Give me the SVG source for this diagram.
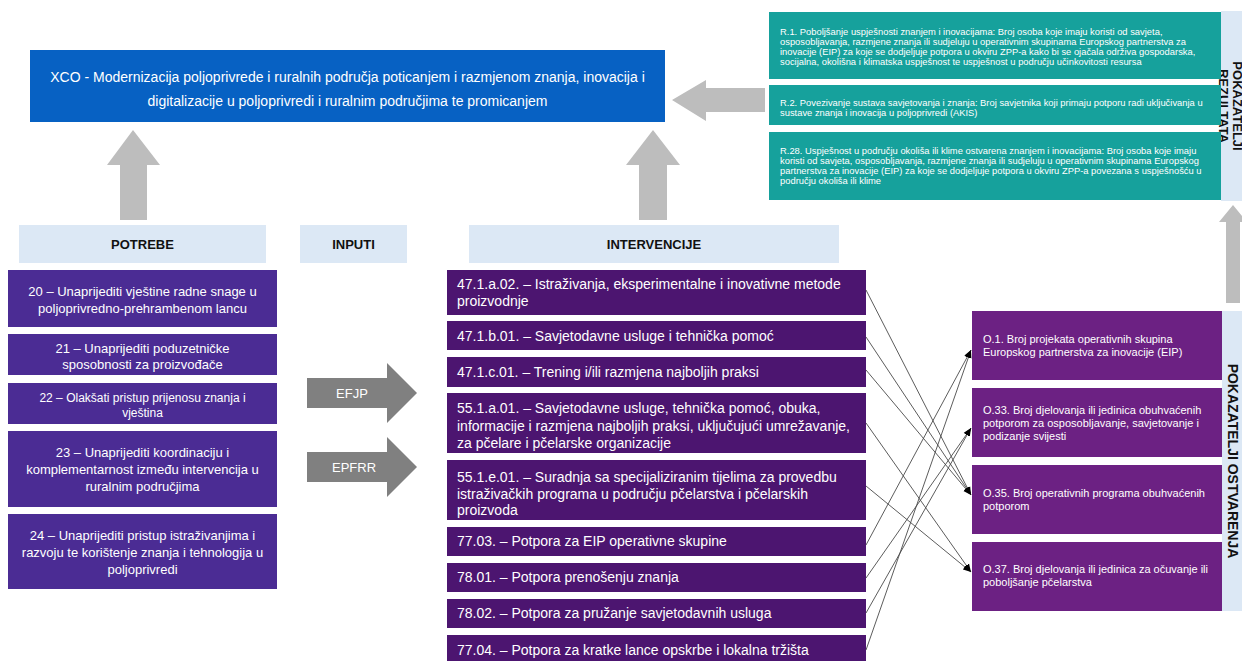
<svg xmlns="http://www.w3.org/2000/svg" width="1242" height="661" viewBox="0 0 1242 661">
<defs>
<style>
text{font-family:"Liberation Sans",Arial,sans-serif;}
.hdr{fill:#dce8f5;}
.hdrt{font-size:13px;font-weight:bold;fill:#111;text-anchor:middle;}
.need{fill:#4b2c94;}
.needt{font-size:13px;fill:#fff;text-anchor:middle;}
.intv{fill:#4c1570;}
.intvt{font-size:14px;fill:#fff;}
.out{fill:#6c2183;}
.outt{font-size:11px;fill:#fff;}
.res{fill:#16a19c;}
.rest{font-size:9.4px;fill:#fff;}
.big{fill:#bdbdbd;}
.inp{fill:#808080;}
.inpt{font-size:13px;fill:#fff;text-anchor:middle;}
.vert{font-size:13px;font-weight:bold;fill:#111;text-anchor:middle;}
.conn{stroke:#4a4a4a;stroke-width:0.9;fill:none;marker-end:url(#ah);}
</style>
<marker id="ah" viewBox="0 0 10 10" refX="10" refY="5" markerWidth="8" markerHeight="8" orient="auto" markerUnits="userSpaceOnUse">
<path d="M0,1 L10,5 L0,9 z" fill="#000"/>
</marker>
</defs>
<rect width="1242" height="661" fill="#fff"/>

<g id="xco">
<rect x="30" y="50" width="635" height="72" fill="#0761c3"/>
<text x="347.5" y="82" font-size="14" fill="#fff" text-anchor="middle">XCO - Modernizacija poljoprivrede i ruralnih područja poticanjem i razmjenom znanja, inovacija i</text>
<text x="347.5" y="106" font-size="14" fill="#fff" text-anchor="middle">digitalizacije u poljoprivredi i ruralnim područjima te promicanjem</text>
</g>

<g id="big-arrows">
<polygon class="big" points="133,130 160,165 147,165 147,220 120,220 120,165 107,165"/>
<polygon class="big" points="653,130 680,165 667,165 667,220 639,220 639,165 626,165"/>
<polygon class="big" points="672,100 706,80 706,88 765,88 765,112 706,112 706,121"/>
<polygon class="big" points="1233,205 1247,222 1240,222 1240,303 1226,303 1226,222 1219,222"/>
</g>

<g id="results">
<rect class="hdr" x="1221" y="11" width="21" height="190"/>
<g transform="translate(1219,106) rotate(90)">
<text class="vert" x="0" y="-14">POKAZATELJI</text>
<text class="vert" x="0" y="0">REZULTATA</text>
</g>
<g id="r1">
<rect class="res" x="769" y="12" width="452" height="67"/>
<text class="rest"><tspan x="780" y="34.5">R.1. Poboljšanje uspješnosti znanjem i inovacijama: Broj osoba koje imaju koristi od savjeta,</tspan><tspan x="780" y="44.8">osposobljavanja, razmjene znanja ili sudjeluju u operativnim skupinama Europskog partnerstva za</tspan><tspan x="780" y="55.1">inovacije (EIP) za koje se dodjeljuje potpora u okviru ZPP-a kako bi se ojačala održiva gospodarska,</tspan><tspan x="780" y="65.4">socijalna, okolišna i klimatska uspješnost te uspješnost u području učinkovitosti resursa</tspan></text>
</g>
<g id="r2">
<rect class="res" x="769" y="85" width="452" height="40"/>
<text class="rest"><tspan x="780" y="105.5">R.2. Povezivanje sustava savjetovanja i znanja: Broj savjetnika koji primaju potporu radi uključivanja u</tspan><tspan x="780" y="115.8">sustave znanja i inovacija u poljoprivredi (AKIS)</tspan></text>
</g>
<g id="r28">
<rect class="res" x="769" y="132" width="452" height="68"/>
<text class="rest"><tspan x="780" y="153.5">R.28. Uspješnost u području okoliša ili klime ostvarena znanjem i inovacijama: Broj osoba koje imaju</tspan><tspan x="780" y="163.8">koristi od savjeta, osposobljavanja, razmjene znanja ili sudjeluju u operativnim skupinama Europskog</tspan><tspan x="780" y="174.1">partnerstva za inovacije (EIP) za koje se dodjeljuje potpora u okviru ZPP-a povezana s uspješnošću u</tspan><tspan x="780" y="184.4">području okoliša ili klime</tspan></text>
</g>
</g>

<g id="headers">
<g id="h-potrebe"><rect class="hdr" x="19" y="225" width="247" height="38"/><text class="hdrt" x="142.5" y="249">POTREBE</text></g>
<g id="h-inputi"><rect class="hdr" x="300" y="225" width="107" height="38"/><text class="hdrt" x="353.5" y="249">INPUTI</text></g>
<g id="h-interv"><rect class="hdr" x="469" y="225" width="370" height="38"/><text class="hdrt" x="654" y="249">INTERVENCIJE</text></g>
</g>

<g id="needs">
<g id="n20"><rect class="need" x="8" y="270" width="269" height="57"/><text class="needt"><tspan x="142.5" y="296">20 – Unaprijediti vještine radne snage u</tspan><tspan x="142.5" y="313">poljoprivredno-prehrambenom lancu</tspan></text></g>
<g id="n21"><rect class="need" x="8" y="334" width="269" height="41"/><text class="needt"><tspan x="142.5" y="353">21 – Unaprijediti poduzetničke</tspan><tspan x="142.5" y="369">sposobnosti za proizvođače</tspan></text></g>
<g id="n22"><rect class="need" x="8" y="383" width="269" height="41"/><text class="needt" font-size="12"><tspan x="142.5" y="402" font-size="12">22 – Olakšati pristup prijenosu znanja i</tspan><tspan x="142.5" y="417" font-size="12">vještina</tspan></text></g>
<g id="n23"><rect class="need" x="8" y="431" width="269" height="76"/><text class="needt"><tspan x="142.5" y="457">23 – Unaprijediti koordinaciju i</tspan><tspan x="142.5" y="474">komplementarnost između intervencija u</tspan><tspan x="142.5" y="491">ruralnim područjima</tspan></text></g>
<g id="n24"><rect class="need" x="8" y="514" width="269" height="75"/><text class="needt"><tspan x="142.5" y="540">24 – Unaprijediti pristup istraživanjima i</tspan><tspan x="142.5" y="557">razvoju te korištenje znanja i tehnologija u</tspan><tspan x="142.5" y="574">poljoprivredi</tspan></text></g>
</g>

<g id="inputs">
<g id="efjp"><polygon class="inp" points="307,378 387,378 387,363 417,393 387,423 387,408 307,408"/><text class="inpt" x="352" y="398">EFJP</text></g>
<g id="epfrr"><polygon class="inp" points="307,452 387,452 387,437 417,467 387,497 387,482 307,482"/><text class="inpt" x="354" y="472">EPFRR</text></g>
</g>

<g id="interventions">
<g id="i47a"><rect class="intv" x="447" y="270" width="419" height="45"/><text class="intvt"><tspan x="457" y="289">47.1.a.02. – Istraživanja, eksperimentalne i inovativne metode</tspan><tspan x="457" y="306">proizvodnje</tspan></text></g>
<g id="i47b"><rect class="intv" x="447" y="321" width="419" height="29"/><text class="intvt" x="457" y="341">47.1.b.01. – Savjetodavne usluge i tehnička pomoć</text></g>
<g id="i47c"><rect class="intv" x="447" y="357" width="419" height="30"/><text class="intvt" x="457" y="377">47.1.c.01. – Trening i/ili razmjena najboljih praksi</text></g>
<g id="i55a"><rect class="intv" x="447" y="393" width="419" height="60"/><text class="intvt"><tspan x="457" y="413">55.1.a.01. – Savjetodavne usluge, tehnička pomoć, obuka,</tspan><tspan x="457" y="430.5">informacije i razmjena najboljih praksi, uključujući umrežavanje,</tspan><tspan x="457" y="448">za pčelare i pčelarske organizacije</tspan></text></g>
<g id="i55e"><rect class="intv" x="447" y="460" width="419" height="60"/><text class="intvt"><tspan x="457" y="482">55.1.e.01. – Suradnja sa specijaliziranim tijelima za provedbu</tspan><tspan x="457" y="498.5">istraživačkih programa u području pčelarstva i pčelarskih</tspan><tspan x="457" y="515">proizvoda</tspan></text></g>
<g id="i7703"><rect class="intv" x="447" y="527" width="419" height="29"/><text class="intvt" x="457" y="546">77.03. – Potpora za EIP operativne skupine</text></g>
<g id="i7801"><rect class="intv" x="447" y="563" width="419" height="29"/><text class="intvt" x="457" y="582">78.01. – Potpora prenošenju znanja</text></g>
<g id="i7802"><rect class="intv" x="447" y="599" width="419" height="29"/><text class="intvt" x="457" y="618">78.02. – Potpora za pružanje savjetodavnih usluga</text></g>
<g id="i7704"><rect class="intv" x="447" y="635" width="419" height="30"/><text class="intvt" x="457" y="655">77.04. – Potpora za kratke lance opskrbe i lokalna tržišta</text></g>
</g>

<g id="outputs">
<rect class="hdr" x="1222" y="311" width="20" height="300"/>
<text class="vert" font-size="14" transform="translate(1228,461) rotate(90)" x="0" y="0" style="font-size:14px">POKAZATELJI OSTVARENJA</text>
<g id="o1"><rect class="out" x="972" y="311" width="250" height="69"/><text class="outt"><tspan x="983" y="343">O.1. Broj projekata operativnih skupina</tspan><tspan x="983" y="356">Europskog partnerstva za inovacije (EIP)</tspan></text></g>
<g id="o33"><rect class="out" x="972" y="388" width="250" height="69"/><text class="outt"><tspan x="983" y="414">O.33. Broj djelovanja ili jedinica obuhvaćenih</tspan><tspan x="983" y="427">potporom za osposobljavanje, savjetovanje i</tspan><tspan x="983" y="440">podizanje svijesti</tspan></text></g>
<g id="o35"><rect class="out" x="972" y="465" width="250" height="69"/><text class="outt"><tspan x="983" y="497">O.35. Broj operativnih programa obuhvaćenih</tspan><tspan x="983" y="510">potporom</tspan></text></g>
<g id="o37"><rect class="out" x="972" y="542" width="250" height="69"/><text class="outt"><tspan x="983" y="573">O.37. Broj djelovanja ili jedinica za očuvanje ili</tspan><tspan x="983" y="586">poboljšanje pčelarstva</tspan></text></g>
</g>

<g id="connectors">
<line class="conn" x1="866" y1="290" x2="971" y2="495"/>
<line class="conn" x1="866" y1="337" x2="971" y2="495"/>
<line class="conn" x1="866" y1="370" x2="971" y2="495"/>
<line class="conn" x1="866" y1="423" x2="971" y2="572"/>
<line class="conn" x1="866" y1="486" x2="971" y2="572"/>
<line class="conn" x1="866" y1="545" x2="971" y2="350"/>
<line class="conn" x1="866" y1="578" x2="971" y2="428"/>
<line class="conn" x1="866" y1="613" x2="971" y2="428"/>
<line class="conn" x1="866" y1="650" x2="971" y2="350"/>
</g>
</svg>
